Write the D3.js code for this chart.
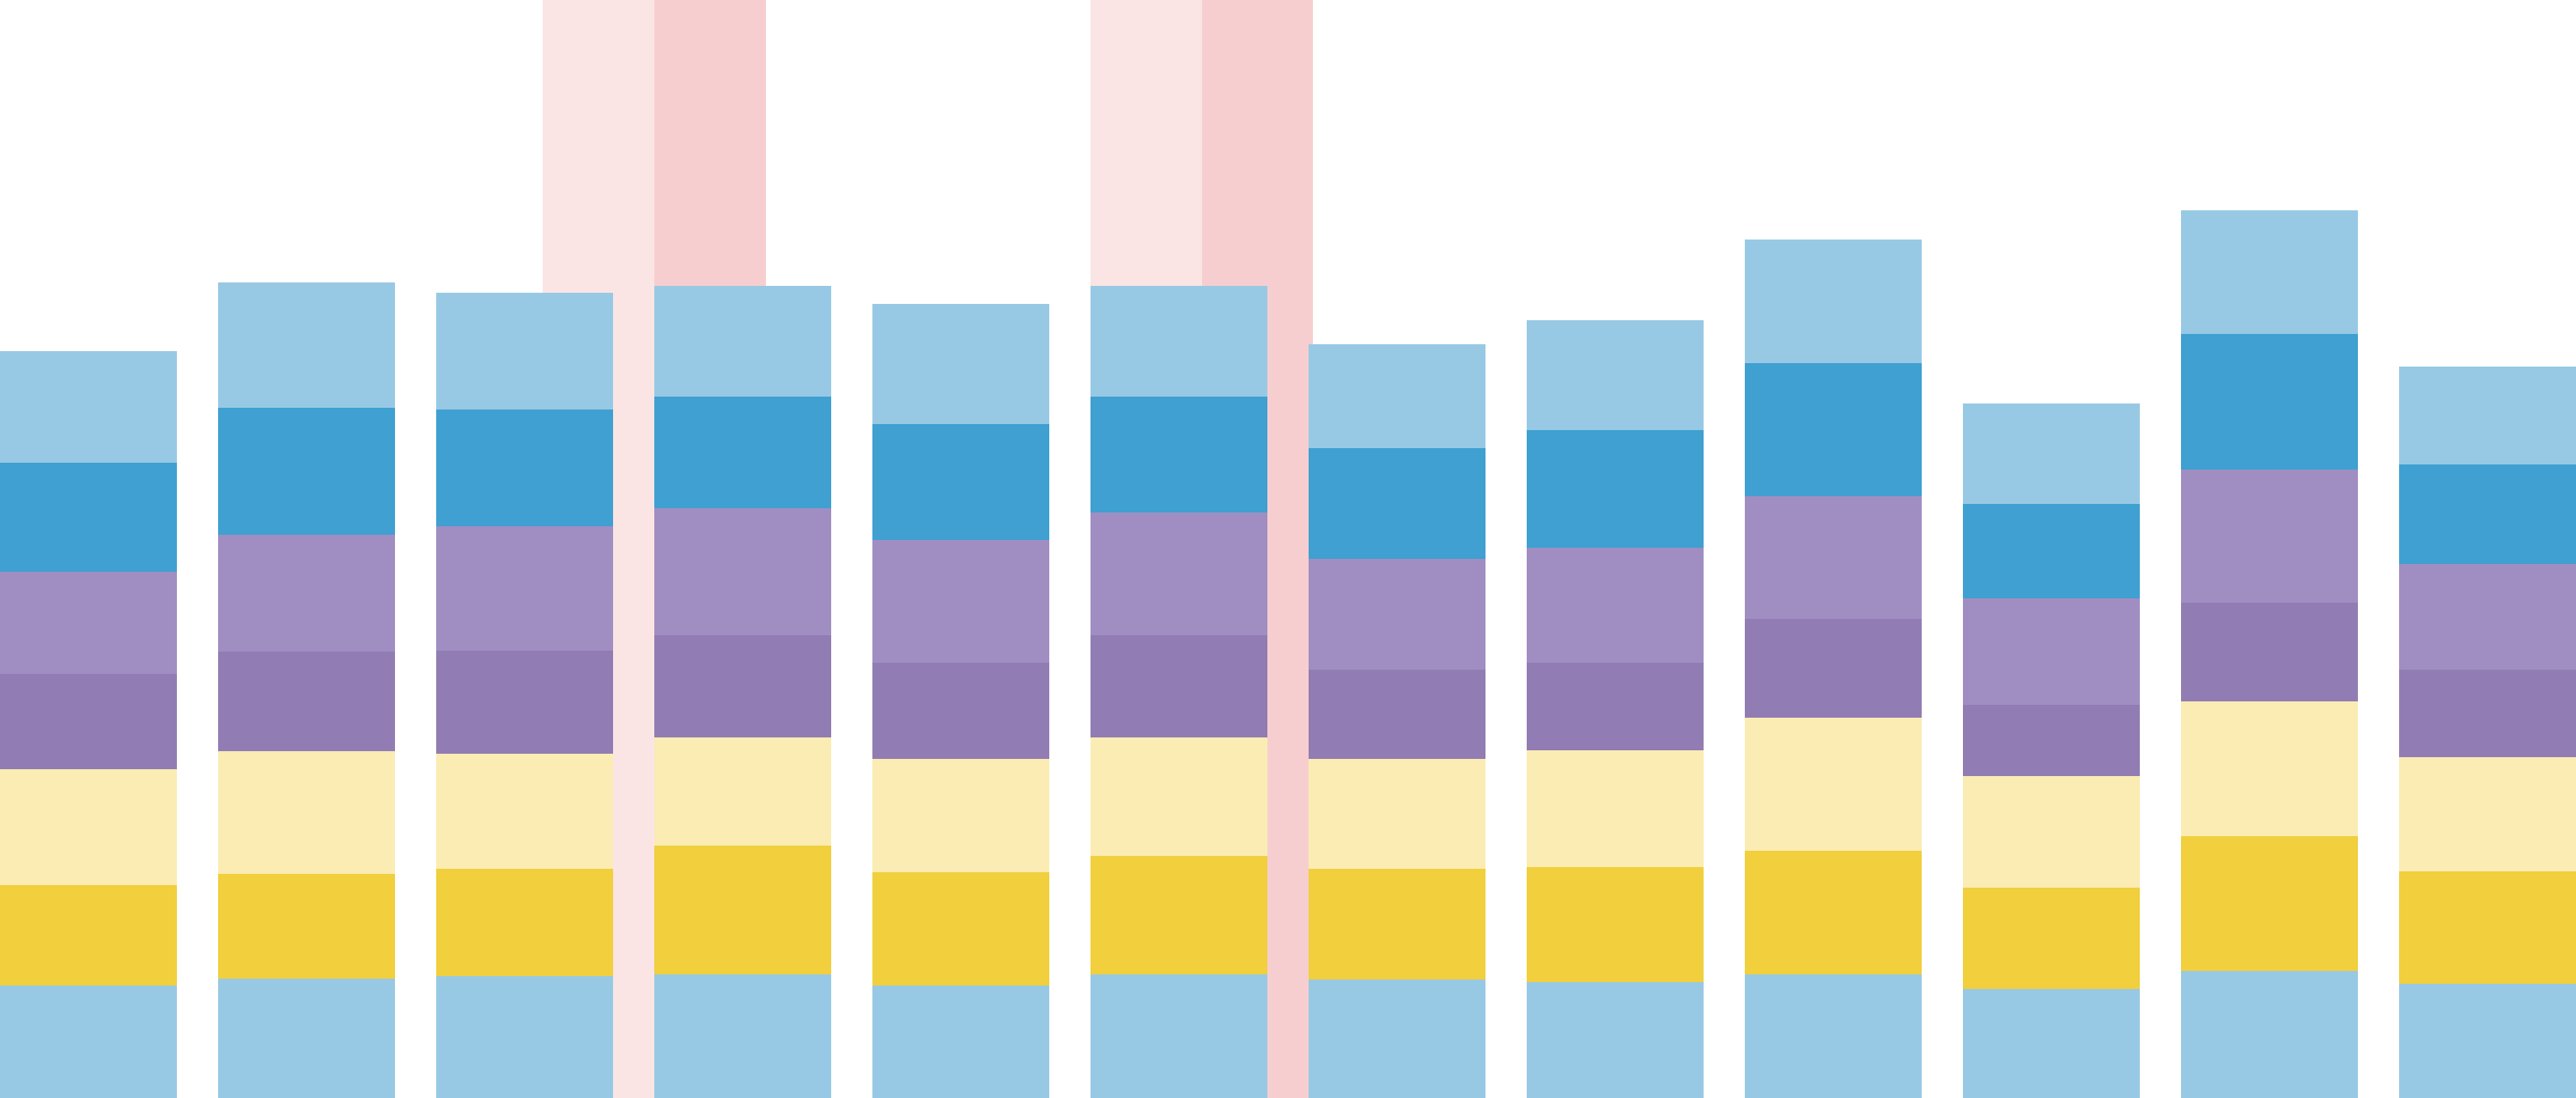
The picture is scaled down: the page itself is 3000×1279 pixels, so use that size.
<!DOCTYPE html>
<html>
<head>
<meta charset="utf-8">
<script src="https://cdn.jsdelivr.net/npm/d3@7"></script>
<style>
html, body { margin: 0; padding: 0; background: #ffffff; overflow: hidden; }
svg { display: block; }
</style>
</head>
<body>
<svg id="chart"></svg>
<script>
// ---- data ----
const categories = ["1", "2", "3", "4", "5", "6", "7", "8", "9", "10", "11", "12"];
const seriesKeys = ["s1", "s2", "s3", "s4", "s5", "s6", "s7"]; // bottom -> top

const s1 = [13.13, 13.95, 14.19, 14.44, 13.13, 14.44, 13.78, 13.46, 14.44, 12.72, 14.76, 13.30];
const s2 = [11.66, 12.15, 12.48, 14.93, 13.13, 13.78, 12.89, 13.46, 14.36, 11.83, 15.74, 13.13];
const s3 = [13.54, 14.27, 13.46, 12.64, 13.21, 13.78, 12.81, 13.62, 15.50, 12.97, 15.66, 13.30];
const s4 = [11.09, 11.66, 11.99, 11.91, 11.26, 11.91, 10.44, 10.20, 11.50, 8.24, 11.50, 10.20];
const s5 = [11.91, 13.62, 14.44, 14.76, 14.27, 14.27, 12.89, 13.38, 14.27, 12.48, 15.50, 12.32];
const s6 = [12.72, 14.76, 13.62, 13.05, 13.54, 13.54, 12.89, 13.70, 15.50, 11.01, 15.82, 11.58];
const s7 = [12.97, 14.60, 13.62, 12.89, 13.95, 12.89, 12.07, 12.81, 14.44, 11.66, 14.44, 11.42];

// highlight columns (x in category-index units), values exceed the visible range
const pinkLightFrom = [2.49, 5.0];
const pinkLightTo   = [3.0, 5.51];
const pinkDarkFrom  = [3.0, 5.51];
const pinkDarkTo    = [3.51, 6.02];
const pinkValue     = [140, 140];

const seriesColors = ["#98c9e4", "#f1cf3d", "#faecb3", "#917db3", "#a08ec2", "#3fa0d1", "#98c9e4"];
const pinkLightColor = "#fae5e4";
const pinkDarkColor = "#f7cecf";

// ---- build ----
const W = 3000, H = 1279;
const seriesArrays = [s1, s2, s3, s4, s5, s6, s7];
const table = categories.map((c, i) => {
  const row = { cat: c };
  seriesKeys.forEach((k, j) => { row[k] = seriesArrays[j][i]; });
  return row;
});

const svg = d3.select("#chart").attr("width", W).attr("height", H);

const x = d3.scaleBand()
  .domain(categories)
  .range([0, W])
  .paddingInner(48 / 254)
  .paddingOuter(0);

const xi = d3.scaleLinear().domain([0, 1]).range([0, x.step()]);
const y = d3.scaleLinear().domain([0, 127.9]).range([H, 0]);

// pink highlight columns
const pinkRows = pinkLightFrom.map((f, i) => ({
  lf: f, lt: pinkLightTo[i], df: pinkDarkFrom[i], dt: pinkDarkTo[i], v: pinkValue[i]
}));
const pg = svg.append("g").attr("shape-rendering", "crispEdges");
pg.selectAll("rect.pl").data(pinkRows).join("rect")
  .attr("class", "pl")
  .attr("x", d => xi(d.lf))
  .attr("width", d => xi(d.lt) - xi(d.lf))
  .attr("y", d => y(d.v))
  .attr("height", d => y(0) - y(d.v))
  .attr("fill", pinkLightColor);
pg.selectAll("rect.pd").data(pinkRows).join("rect")
  .attr("class", "pd")
  .attr("x", d => xi(d.df))
  .attr("width", d => xi(d.dt) - xi(d.df))
  .attr("y", d => y(d.v))
  .attr("height", d => y(0) - y(d.v))
  .attr("fill", pinkDarkColor);

// stacked bars
const stacked = d3.stack().keys(seriesKeys)(table);
svg.append("g").attr("shape-rendering", "crispEdges")
  .selectAll("g")
  .data(stacked)
  .join("g")
  .attr("fill", (d, i) => seriesColors[i])
  .selectAll("rect")
  .data(d => d)
  .join("rect")
  .attr("x", d => x(d.data.cat))
  .attr("width", x.bandwidth())
  .attr("y", d => y(d[1]))
  .attr("height", d => y(d[0]) - y(d[1]));
</script>
</body>
</html>
